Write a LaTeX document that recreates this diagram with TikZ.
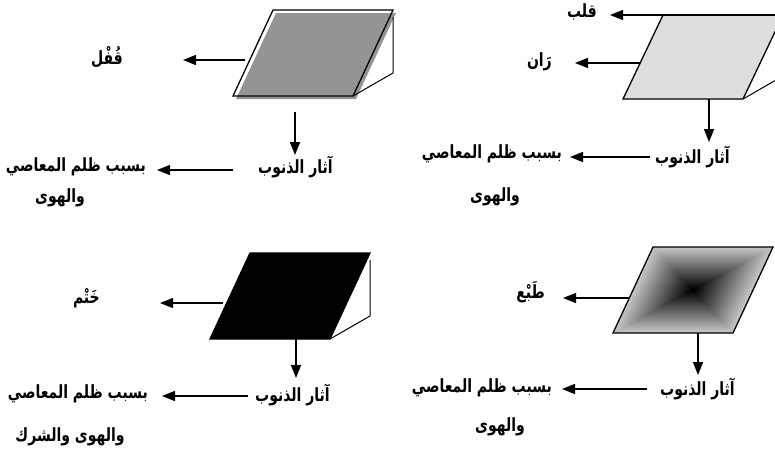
\documentclass[tikz,border=0pt]{standalone}
\usepackage{fontspec}
\usepackage{graphicx}
\newfontfamily\arabicfont[Script=Arabic]{DejaVu Sans}
\TeXXeTstate=1
\usetikzlibrary{arrows.meta,calc}
\newcommand{\AR}[1]{\scalebox{1}[1.3]{\beginR #1\endR}}
\tikzset{
  ar/.style={font=\arabicfont\bfseries\fontsize{14}{17}\selectfont, inner sep=0pt},
  conn/.style={line width=1.5pt, -{Triangle[length=13pt,width=10pt]}},
  outl/.style={line width=1.3pt, line join=miter},
  sideln/.style={line width=1pt}
}
\begin{document}
\begin{tikzpicture}[x=1pt,y=-1pt]
\useasboundingbox (0,0) rectangle (775,451);
\clip (0,0) rectangle (775,451);

% ---------- top right (stippled) ----------
\coordinate (a1) at (623,99); \coordinate (a2) at (663,15);
\coordinate (a3) at (783,15); \coordinate (a4) at (743,99);
\filldraw[outl, fill=black!13] (a1) -- (a2) -- (a3) -- (a4) -- cycle;
\coordinate (a5) at (783,76); \coordinate (a6) at (783,22);
\draw[sideln] (a4) -- (a5) -- (a6);
\node[ar, anchor=east] (qalb) at (597,12) {\AR{قلب}};
\node[ar, anchor=east] (ran) at (552,62) {\AR{رَان}};
\node[ar, anchor=west] (athar1) at (655,157) {\AR{آثار الذنوب}};
\node[ar, anchor=east] (sabab1) at (562,154) {\AR{بسبب ظلم المعاصي}};
\node[ar] (hawa1) at (495,197) {\AR{والهوى}};
\coordinate (qs) at (780,15);
\draw[conn, shorten >=13pt] (qs) -- (qs -| qalb.east);
\coordinate (rs) at (640,63);
\draw[conn, shorten >=23pt] (rs) -- (rs -| ran.east);
\coordinate (ds1) at (709,99); \coordinate (de1) at (709,142);
\draw[conn] (ds1) -- (de1);
\coordinate (ls1) at (650,157);
\draw[conn, shorten >=8pt] (ls1) -- (ls1 -| sabab1.east);

% ---------- top left (gray gradient) ----------
\coordinate (b1) at (233,96); \coordinate (b2) at (273,10);
\coordinate (b3) at (393,10); \coordinate (b4) at (353,96);
\shade[top color=black!42, middle color=black!75, bottom color=black!42]
  ([shift={(3,3)}]b1) -- ([shift={(3,3)}]b2) -- ([shift={(3,3)}]b3) -- ([shift={(3,3)}]b4) -- cycle;
\draw[outl] (b1) -- (b2) -- (b3) -- (b4) -- cycle;
\coordinate (b5) at (393,73); \coordinate (b6) at (393,17);
\draw[sideln] (b4) -- (b5) -- (b6);
\node[ar, anchor=east] (qufl) at (123,57) {\AR{قُفْل}};
\node[ar, anchor=west] (athar2) at (258,167) {\AR{آثار الذنوب}};
\node[ar, anchor=east] (sabab2) at (146,167) {\AR{بسبب ظلم المعاصي}};
\node[ar] (hawa2) at (60,198) {\AR{والهوى}};
\coordinate (fs) at (245,60);
\draw[conn, shorten >=60pt] (fs) -- (fs -| qufl.east);
\coordinate (ds2) at (295,112); \coordinate (de2) at (295,155);
\draw[conn] (ds2) -- (de2);
\coordinate (ls2) at (233,170);
\draw[conn, shorten >=11pt] (ls2) -- (ls2 -| sabab2.east);

% ---------- bottom left (black) ----------
\coordinate (c1) at (210,339); \coordinate (c2) at (250,253);
\coordinate (c3) at (370,253); \coordinate (c4) at (330,339);
\filldraw[outl, fill=black] (c1) -- (c2) -- (c3) -- (c4) -- cycle;
\coordinate (c5) at (370,316); \coordinate (c6) at (370,260);
\draw[sideln] (c4) -- (c5) -- (c6);
\node[ar, anchor=east] (khatm) at (100,298) {\AR{خَتْم}};
\node[ar, anchor=west] (athar3) at (255,395) {\AR{آثار الذنوب}};
\node[ar, anchor=east] (sabab3) at (148,394) {\AR{بسبب ظلم المعاصي}};
\node[ar] (hawa3) at (70,437) {\AR{والهوى والشرك}};
\coordinate (ks) at (223,303);
\draw[conn, shorten >=60pt] (ks) -- (ks -| khatm.east);
\coordinate (ds3) at (296,339); \coordinate (de3) at (296,378);
\draw[conn] (ds3) -- (de3);
\coordinate (ls3) at (248,396);
\draw[conn, shorten >=14pt] (ls3) -- (ls3 -| sabab3.east);

% ---------- bottom right (centre gradient) ----------
\begin{scope}[shift={(693,290)}]
\foreach \i in {0,...,59}{
  \pgfmathsetmacro\k{1-\i/60}
  \pgfmathsetmacro\c{22+78*\i/59}
  \fill[black!\c] ({-80*\k},{43*\k}) -- ({-40*\k},{-43*\k}) -- ({80*\k},{-43*\k}) -- ({40*\k},{43*\k}) -- cycle;
}
\end{scope}
\coordinate (e1) at (613,333); \coordinate (e2) at (653,247);
\coordinate (e3) at (773,247); \coordinate (e4) at (733,333);
\draw[outl] (e1) -- (e2) -- (e3) -- (e4) -- cycle;
\node[ar, anchor=east] (tab) at (545,292) {\AR{طَبْع}};
\node[ar, anchor=west] (athar4) at (660,389) {\AR{آثار الذنوب}};
\node[ar, anchor=east] (sabab4) at (552,388) {\AR{بسبب ظلم المعاصي}};
\node[ar] (hawa4) at (500,427) {\AR{والهوى}};
\coordinate (ts) at (629,298);
\draw[conn, shorten >=18pt] (ts) -- (ts -| tab.east);
\coordinate (ds4) at (698,333); \coordinate (de4) at (698,375);
\draw[conn] (ds4) -- (de4);
\coordinate (ls4) at (647,389);
\draw[conn, shorten >=10pt] (ls4) -- (ls4 -| sabab4.east);
\end{tikzpicture}
\end{document}
